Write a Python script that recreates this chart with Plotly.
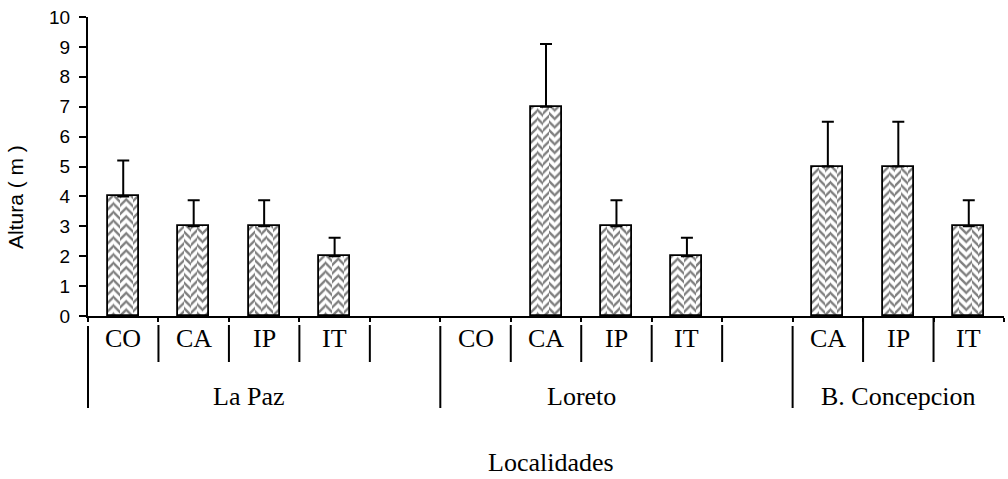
import plotly.graph_objects as go

# Height of plants (m) by locality and category, with one-sided error
localidades = ["La Paz", "Loreto", "B. Concepcion"]
slot_localidad = ["La Paz"] * 5 + ["Loreto"] * 5 + ["B. Concepcion"] * 3
slot_label = ["CO", "CA", "IP", "IT", "", "CO", "CA", "IP", "IT", "", "CA", "IP", "IT"]
altura = [4, 3, 3, 2, None, None, 7, 3, 2, None, 5, 5, 3]
error = [1.2, 0.87, 0.87, 0.62, None, None, 2.1, 0.87, 0.62, None, 1.5, 1.5, 0.87]
y_ticks = list(range(0, 11))

n = len(slot_label)
pos = list(range(n))

W, H = 1008, 479
L, R, T, B = 88, 4, 17, 163
pw, ph = W - L - R, H - T - B
BAR_W = 0.44
N_STRIPS = 5


def px(xp):
    return (xp - L) / pw


def py(yp):
    return (H - B - yp) / ph


def slot_x(i):
    # paper x of a slot position (range is -0.5 .. n-0.5)
    return (i + 0.5) / n


fig = go.Figure()

# herringbone fill: narrow strips alternating hatch direction
sw = BAR_W / N_STRIPS
for j in range(N_STRIPS):
    fig.add_trace(go.Bar(
        x=pos, y=altura, width=sw, offset=-BAR_W / 2 + j * sw,
        marker=dict(color="white", line=dict(width=0),
                    pattern=dict(shape="/" if j % 2 == 0 else "\\", size=6,
                                 solidity=0.4, fgcolor="black",
                                 bgcolor="white")),
        showlegend=False, hoverinfo="skip",
    ))

# bar outline and error bars
fig.add_trace(go.Bar(
    x=pos, y=altura, width=BAR_W, offset=-BAR_W / 2,
    marker=dict(color="rgba(0,0,0,0)", line=dict(color="black", width=1.8)),
    error_y=dict(type="data", symmetric=False, array=error,
                 arrayminus=[0 if e is not None else None for e in error],
                 color="black", thickness=2, width=6),
    showlegend=False, hoverinfo="skip",
))

shapes = []
ann = []
serif = dict(family="Liberation Serif", size=26, color="black")

# category labels and their separators
for i, lab in enumerate(slot_label):
    if lab:
        ann.append(dict(x=slot_x(i), y=py(338), xref="paper", yref="paper",
                        text=lab, showarrow=False, font=serif,
                        xanchor="center", yanchor="middle"))

group_start = {}
for i, g in enumerate(slot_localidad):
    group_start.setdefault(g, i)

for i in range(1, n):
    b = i - 0.5
    if slot_localidad[i] != slot_localidad[i - 1]:
        continue
    g = slot_localidad[i]
    y0 = 316 if g == "B. Concepcion" else 325
    shapes.append(dict(type="line", xref="paper", yref="paper",
                       x0=slot_x(b), x1=slot_x(b), y0=py(y0), y1=py(362),
                       line=dict(color="black", width=2)))

for g in localidades:
    b = group_start[g] - 0.5
    shapes.append(dict(type="line", xref="paper", yref="paper",
                       x0=slot_x(b), x1=slot_x(b), y0=py(326), y1=py(408),
                       line=dict(color="black", width=2)))

group_center = {"La Paz": 1.78, "Loreto": 6.5, "B. Concepcion": 11.0}
for g in localidades:
    ann.append(dict(x=slot_x(group_center[g]), y=py(396), xref="paper", yref="paper",
                    text=g, showarrow=False, font=serif,
                    xanchor="center", yanchor="middle"))

ann.append(dict(x=px(551), y=py(462), xref="paper", yref="paper",
                text="Localidades", showarrow=False, font=serif,
                xanchor="center", yanchor="middle"))
ann.append(dict(x=px(15), y=py(197), xref="paper", yref="paper",
                text="Altura ( m )", showarrow=False, textangle=-90,
                font=dict(family="Liberation Sans", size=21, color="black"),
                xanchor="center", yanchor="middle"))

fig.update_layout(
    width=W, height=H,
    margin=dict(l=L, r=R, t=T, b=B),
    paper_bgcolor="white", plot_bgcolor="white",
    shapes=shapes, annotations=ann,
    barmode="overlay", bargap=0,
)
fig.update_xaxes(range=[-0.5, n - 0.5], showgrid=False, zeroline=False,
                 showline=True, linecolor="black", linewidth=2,
                 tickmode="array", tickvals=[i - 0.5 for i in range(n + 1)],
                 ticktext=[""] * (n + 1), ticks="outside", ticklen=4,
                 tickwidth=2, tickcolor="black")
fig.update_yaxes(range=[0, 10], showgrid=False, zeroline=False,
                 showline=True, linecolor="black", linewidth=2,
                 tickmode="array", tickvals=y_ticks,
                 ticks="outside", ticklen=7, tickwidth=2, tickcolor="black",
                 ticklabelstandoff=5,
                 tickfont=dict(family="Liberation Sans", size=19, color="black"))

fig.write_html("out.html")
